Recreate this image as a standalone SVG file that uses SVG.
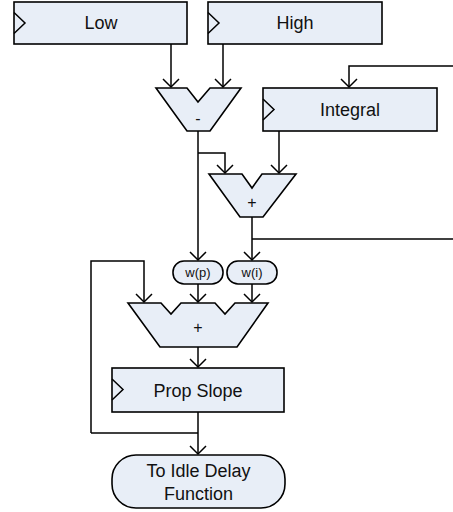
<svg xmlns="http://www.w3.org/2000/svg" width="453" height="512" viewBox="0 0 453 512">
<style>
.n{fill:#E8EEF7;stroke:#000;stroke-width:1.6}
.c{fill:none;stroke:#000;stroke-width:1.5}
.t{font-family:"Liberation Sans",Arial,sans-serif;font-size:18px;fill:#111;text-anchor:middle}
.s{font-family:"Liberation Sans",Arial,sans-serif;font-size:13px;fill:#111;text-anchor:middle}
.o{font-family:"Liberation Sans",Arial,sans-serif;font-size:16px;fill:#111;text-anchor:middle}
</style>
<defs>
<marker id="a" markerUnits="userSpaceOnUse" markerWidth="20" markerHeight="20" viewBox="-10 -10 20 20" refX="0" refY="0" orient="auto">
<polyline points="-8,-8 0,0 -8,8" fill="none" stroke="#000" stroke-width="1.5"/>
</marker>
</defs>
<g id="connectors">
<path class="c" d="M171,44 V87" marker-end="url(#a)"/>
<path class="c" d="M223,44 V87" marker-end="url(#a)"/>
<path class="c" d="M453,66 H349 V87" marker-end="url(#a)"/>
<path class="c" d="M198,131 V260" marker-end="url(#a)"/>
<path class="c" d="M198,153 H225 V173" marker-end="url(#a)"/>
<path class="c" d="M279,131 V173" marker-end="url(#a)"/>
<path class="c" d="M252,217 V260" marker-end="url(#a)"/>
<path class="c" d="M252,239 H453"/>
<path class="c" d="M198,284 V302" marker-end="url(#a)"/>
<path class="c" d="M252,284 V302" marker-end="url(#a)"/>
<path class="c" d="M91,433 V261 H144 V302" marker-end="url(#a)"/>
<path class="c" d="M198,347 V367" marker-end="url(#a)"/>
<path class="c" d="M198,412 V454" marker-end="url(#a)"/>
<path class="c" d="M91,433 H198"/>
</g>
<g id="low">
<rect class="n" x="14" y="2" width="173" height="42"/>
<polyline class="c" points="14,12.5 25,23 14,33.5"/>
<text class="t" x="101" y="29">Low</text>
</g>
<g id="high">
<rect class="n" x="208" y="2" width="174" height="42"/>
<polyline class="c" points="208,12.5 219,23 208,33.5"/>
<text class="t" x="295" y="29">High</text>
</g>
<g id="integral">
<rect class="n" x="263" y="88" width="174" height="43"/>
<polyline class="c" points="263,99 274,109.5 263,120"/>
<text class="t" x="350" y="116">Integral</text>
</g>
<g id="minus">
<polygon class="n" points="156,88 187,88 198,102 210,88 241,88 210,131 187,131"/>
<text class="o" x="198" y="124">-</text>
</g>
<g id="plus1">
<polygon class="n" points="209,174 242,174 252,188 262,174 296,174 263,217 240,217"/>
<text class="o" x="252" y="208">+</text>
</g>
<g id="wp">
<rect class="n" x="173" y="261" width="50" height="23" rx="11"/>
<text class="s" x="198" y="277">w(p)</text>
</g>
<g id="wi">
<rect class="n" x="227" y="261" width="50" height="23" rx="11"/>
<text class="s" x="252" y="277">w(i)</text>
</g>
<g id="plus2">
<polygon class="n" points="128,303 161,303 171,314 181,303 215,303 225,314 235,303 268,303 237,347 160,347"/>
<text class="o" x="198" y="333">+</text>
</g>
<g id="propslope">
<rect class="n" x="112" y="368" width="172" height="44"/>
<polyline class="c" points="112,379 123,389.5 112,400"/>
<text class="t" x="198" y="397">Prop Slope</text>
</g>
<g id="idle">
<rect class="n" x="112" y="455" width="173" height="53" rx="24"/>
<text class="t" x="198.5" y="477">To Idle Delay</text>
<text class="t" x="198.5" y="500">Function</text>
</g>
</svg>
